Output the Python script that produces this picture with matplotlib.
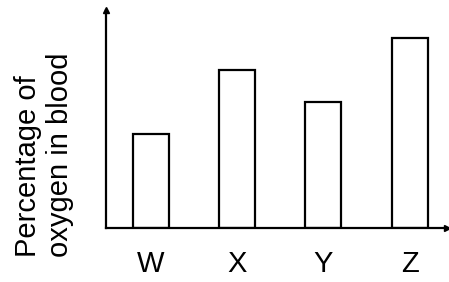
import matplotlib
matplotlib.use("Agg")
import matplotlib.pyplot as plt

categories = ["W", "X", "Y", "Z"]
values = [43, 72.5, 58, 87]
ylabel = "Percentage of\noxygen in blood"

plt.rcParams['font.family'] = ['Liberation Sans', 'DejaVu Sans']

W, H = 449, 282
fig = plt.figure(figsize=(W / 100, H / 100), dpi=100)
ax = fig.add_axes([106 / W, (H - 228) / H, (445 - 106) / W, (228 - 10) / H])

x = list(range(len(categories)))
ax.bar(x, values, width=0.42, facecolor='white', edgecolor='black', linewidth=1.6)
ax.set_xlim(-0.52, 3.41)
ax.set_ylim(0, 100)
ax.set_xticks(x)
ax.set_xticklabels(categories, fontsize=21)
ax.set_yticks([])
ax.tick_params(axis='x', length=0, pad=16)
for s in ['top', 'right']:
    ax.spines[s].set_visible(False)
for s in ['left', 'bottom']:
    ax.spines[s].set_linewidth(1.6)

# arrowheads
ax.plot(0, 1, marker='^', color='black', markersize=4, transform=ax.transAxes, clip_on=False)
ax.plot(1.005, 0, marker='>', color='black', markersize=4, transform=ax.transAxes, clip_on=False)

fig.text(44 / W, (H - 257) / H, ylabel, rotation=90, ha='center', va='bottom',
         multialignment='left', fontsize=21, linespacing=1.2)

fig.savefig("out.png", dpi=100)
